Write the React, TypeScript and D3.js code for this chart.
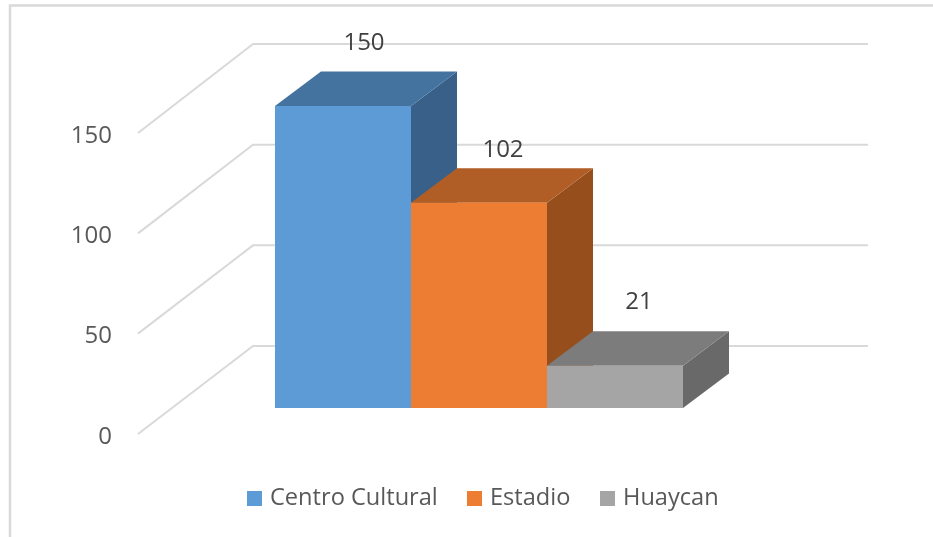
import React from "react";
import * as d3 from "d3";

const categories = ["Centro Cultural", "Estadio", "Huaycan"];
const values = [150, 102, 21];
const tickValues = [0, 50, 100, 150];
const frontColors = ["#5b9bd5", "#ed7d31", "#a5a5a5"];
const topColors = ["#44739f", "#b15d25", "#7c7c7c"];
const sideColors = ["#386189", "#964f1f", "#696969"];
const legendX = [247, 467, 600];
const labelShiftX = [21, 24, 24];
const labelShiftY = [-56, -46, -57];

const W = 933;
const H = 537;
const FONT = "'Open Sans', sans-serif";

export default function App() {
  // front plane of the bars
  const y = d3.scaleLinear().domain([0, 150]).range([408, 106]);
  const x = d3.scaleBand<string>().domain(categories).range([275, 683]);
  // back wall gridlines
  const wallY = d3.scaleLinear().domain([0, 150]).range([346, 44]);
  const axisY = d3.scaleLinear().domain([0, 150]).range([434, 133]);
  const depthX = 46;
  const depthY = -34.5;
  const poly = (pts: [number, number][]) => pts.map((p) => p.join(",")).join(" ");

  return (
    <svg
      width={W}
      height={H}
      viewBox={`0 0 ${W} ${H}`}
      style={{ position: "absolute", left: 0, top: 0, background: "#fff" }}
    >
      <defs>
        <filter id="soft" x="-5%" y="-5%" width="110%" height="110%">
          <feGaussianBlur stdDeviation="0.7" />
        </filter>
      </defs>
      <g filter="url(#soft)">
        <path d={`M10,${H + 5} V5.5 H${W + 5}`} fill="none" stroke="#d9d9d9" strokeWidth={2.5} />
        {tickValues.map((t) => (
          <g key={t}>
            <polyline
              points={poly([
                [138, axisY(t)],
                [253, wallY(t)],
                [868, wallY(t)],
              ])}
              fill="none"
              stroke="#d9d9d9"
              strokeWidth={2}
            />
            <text
              x={112}
              y={axisY(t) + 9.5}
              textAnchor="end"
              fontFamily={FONT}
              fontSize={24}
              fill="#595959"
            >
              {t}
            </text>
          </g>
        ))}
        {categories.map((c, i) => {
          const x0 = x(c)!;
          const x1 = x0 + x.bandwidth();
          const yTop = y(values[i]);
          const yBase = y(0);
          return (
            <g key={c}>
              <polygon
                points={poly([
                  [x1, yTop],
                  [x1 + depthX, yTop + depthY],
                  [x1 + depthX, yBase + depthY],
                  [x1, yBase],
                ])}
                fill={sideColors[i]}
              />
              <polygon
                points={poly([
                  [x0, yTop],
                  [x0 + depthX, yTop + depthY],
                  [x1 + depthX, yTop + depthY],
                  [x1, yTop],
                ])}
                fill={topColors[i]}
              />
              <rect x={x0} y={yTop} width={x.bandwidth()} height={yBase - yTop} fill={frontColors[i]} />
            </g>
          );
        })}
        {categories.map((c, i) => (
          <text
            key={c}
            x={x(c)! + x.bandwidth() / 2 + labelShiftX[i]}
            y={y(values[i]) + labelShiftY[i]}
            textAnchor="middle"
            fontFamily={FONT}
            fontSize={24}
            fill="#404040"
          >
            {values[i]}
          </text>
        ))}
        {categories.map((c, i) => (
          <g key={c}>
            <rect x={legendX[i]} y={491} width={15} height={15} fill={frontColors[i]} />
            <text
              x={legendX[i] + 23}
              y={505}
              fontFamily={FONT}
              fontSize={23.6}
              fill="#595959"
            >
              {c}
            </text>
          </g>
        ))}
      </g>
    </svg>
  );
}
